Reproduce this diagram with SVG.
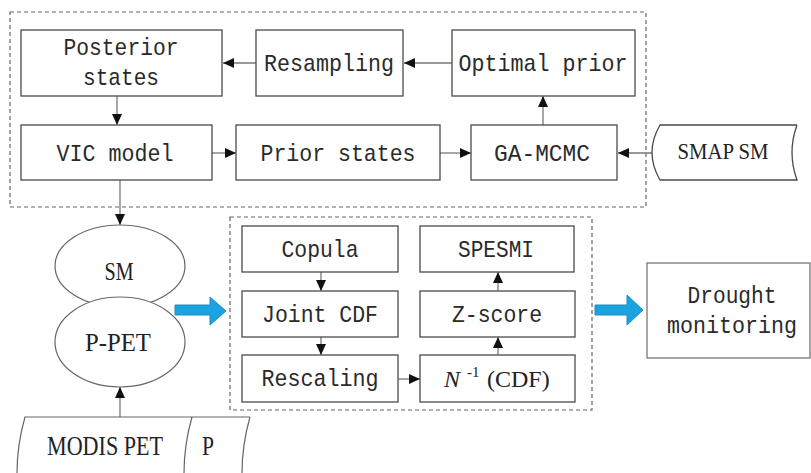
<svg xmlns="http://www.w3.org/2000/svg" width="811" height="473" viewBox="0 0 811 473">
<defs>
<style>
.box{fill:#fff;stroke:#4a4a4a;stroke-width:1.3}
.dash{fill:none;stroke:#666;stroke-width:1.2;stroke-dasharray:4 3}
.ell{fill:#fff;stroke:#666;stroke-width:1.2}
.con{fill:none;stroke:#777;stroke-width:1.3;marker-end:url(#ah)}
.mono{font-family:"Liberation Mono","DejaVu Sans Mono",monospace;font-size:24px;fill:#2a2a2a;text-anchor:middle}
.serif{font-family:"Liberation Serif","Times New Roman",serif;font-size:24px;fill:#222;text-anchor:middle}
.blue{fill:#1aa3df;stroke:#1b8fc4;stroke-width:1}
</style>
<marker id="ah" viewBox="0 0 11 10" refX="11" refY="5" markerWidth="11" markerHeight="10" markerUnits="userSpaceOnUse" orient="auto">
<path d="M0,0 L11,5 L0,10 Z" fill="#111"/>
</marker>
</defs>
<rect width="811" height="473" fill="#fff"/>

<g id="groups">
<rect class="dash" x="10" y="12" width="636" height="195"/>
<rect class="dash" x="230" y="217" width="362" height="193"/>
</g>

<g id="connectors">
<line class="con" x1="452" y1="63" x2="404" y2="63"/>
<line class="con" x1="256" y1="63" x2="223" y2="63"/>
<line class="con" x1="117" y1="96" x2="117" y2="125"/>
<line class="con" x1="212" y1="153" x2="236" y2="153"/>
<line class="con" x1="440" y1="153" x2="471" y2="153"/>
<line class="con" x1="543" y1="125" x2="543" y2="96"/>
<line class="con" x1="652" y1="153" x2="618" y2="153"/>
<line class="con" x1="120" y1="180" x2="120" y2="225"/>
<line class="con" x1="120" y1="417" x2="120" y2="387"/>
<line class="con" x1="321" y1="272" x2="321" y2="291"/>
<line class="con" x1="321" y1="337" x2="321" y2="355"/>
<line class="con" x1="398" y1="379" x2="420" y2="379"/>
<line class="con" x1="498" y1="355" x2="498" y2="337"/>
<line class="con" x1="498" y1="291" x2="498" y2="272"/>
<path class="blue" d="M175,305 L210,305 L210,297 L226,311 L210,325 L210,315 L175,315 Z"/>
<path class="blue" d="M595,305 L627,305 L627,295 L643,310 L627,325 L627,315 L595,315 Z"/>
</g>

<g id="posterior">
<rect class="box" x="21" y="30" width="201" height="66"/>
<text class="mono" x="121" y="55" textLength="115" lengthAdjust="spacingAndGlyphs">Posterior</text>
<text class="mono" x="121" y="85" textLength="76" lengthAdjust="spacingAndGlyphs">states</text>
</g>
<g id="resampling">
<rect class="box" x="256" y="30" width="147" height="66"/>
<text class="mono" x="329" y="71" textLength="130" lengthAdjust="spacingAndGlyphs">Resampling</text>
</g>
<g id="optimal">
<rect class="box" x="452" y="30" width="183" height="66"/>
<text class="mono" x="543" y="71" textLength="169" lengthAdjust="spacingAndGlyphs">Optimal prior</text>
</g>
<g id="vic">
<rect class="box" x="21" y="125" width="191" height="55"/>
<text class="mono" x="115" y="161" textLength="117" lengthAdjust="spacingAndGlyphs">VIC model</text>
</g>
<g id="prior">
<rect class="box" x="236" y="125" width="204" height="55"/>
<text class="mono" x="338" y="161" textLength="155" lengthAdjust="spacingAndGlyphs">Prior states</text>
</g>
<g id="gamcmc">
<rect class="box" x="471" y="125" width="146" height="55"/>
<text class="mono" x="542" y="161" textLength="96" lengthAdjust="spacingAndGlyphs">GA-MCMC</text>
</g>
<g id="smap">
<path class="box" d="M797,125 L660,125 Q644,152.5 660,180 L797,180 Q787,152.5 797,125"/>
<text class="serif" x="723" y="159" textLength="91" lengthAdjust="spacingAndGlyphs">SMAP SM</text>
</g>

<g id="sm">
<ellipse class="ell" cx="120" cy="266" rx="65" ry="41"/>
<text class="serif" x="119" y="280" style="font-size:25px" textLength="29" lengthAdjust="spacingAndGlyphs">SM</text>
</g>
<g id="ppet">
<ellipse class="ell" cx="120" cy="342" rx="65" ry="45"/>
<text class="serif" x="118" y="351" style="font-size:25px" textLength="66" lengthAdjust="spacingAndGlyphs">P-PET</text>
</g>
<g id="modis">
<path class="ell" d="M250,417 L25,417 Q9,473 25,529 M192,417 Q176,473 192,529 M250,417 Q234,473 250,529"/>
<text class="serif" x="105" y="455" style="font-size:27px" textLength="116" lengthAdjust="spacingAndGlyphs">MODIS PET</text>
<text class="serif" x="208" y="455" style="font-size:27px" textLength="12" lengthAdjust="spacingAndGlyphs">P</text>
</g>

<g id="copula">
<rect class="box" x="242" y="226" width="156" height="46"/>
<text class="mono" x="320" y="257" textLength="77" lengthAdjust="spacingAndGlyphs">Copula</text>
</g>
<g id="spesmi">
<rect class="box" x="420" y="226" width="154" height="46"/>
<text class="mono" x="496" y="257" textLength="76" lengthAdjust="spacingAndGlyphs">SPESMI</text>
</g>
<g id="jointcdf">
<rect class="box" x="242" y="291" width="156" height="46"/>
<text class="mono" x="320" y="322" textLength="116" lengthAdjust="spacingAndGlyphs">Joint CDF</text>
</g>
<g id="zscore">
<rect class="box" x="420" y="291" width="155" height="46"/>
<text class="mono" x="497" y="322" textLength="90" lengthAdjust="spacingAndGlyphs">Z-score</text>
</g>
<g id="rescaling">
<rect class="box" x="242" y="355" width="156" height="47"/>
<text class="mono" x="320" y="386" textLength="117" lengthAdjust="spacingAndGlyphs">Rescaling</text>
</g>
<g id="ncdf">
<rect class="box" x="420" y="355" width="155" height="47"/>
<text class="serif" y="387" style="text-anchor:start"><tspan x="444" font-style="italic">N</tspan><tspan x="467" dy="-10" style="font-size:15px">-1</tspan><tspan x="487" dy="10">(CDF)</tspan></text>
</g>
<g id="drought">
<rect class="box" x="647" y="263" width="163" height="95" style="stroke:#777"/>
<text class="mono" x="732" y="303" textLength="89" lengthAdjust="spacingAndGlyphs">Drought</text>
<text class="mono" x="732" y="333" textLength="130" lengthAdjust="spacingAndGlyphs">monitoring</text>
</g>
</svg>
